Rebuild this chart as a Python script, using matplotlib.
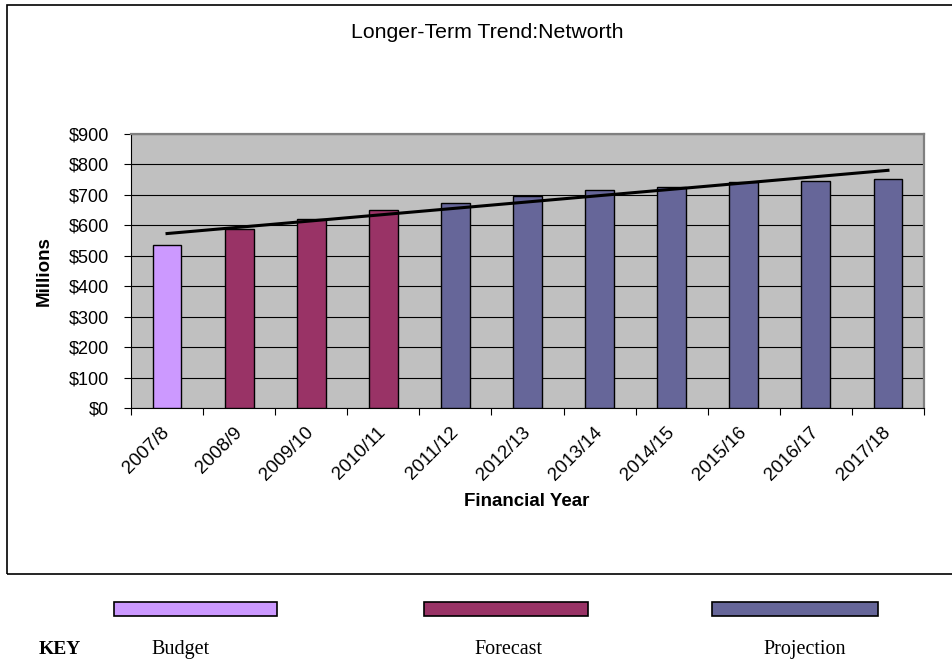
import numpy as np
import matplotlib
matplotlib.use("Agg")
import matplotlib.pyplot as plt
from matplotlib.patches import Rectangle
from matplotlib.ticker import FuncFormatter, MultipleLocator
from matplotlib.transforms import ScaledTranslation

# Net worth by financial year ($ millions)
years = ["2007/8", "2008/9", "2009/10", "2010/11", "2011/12", "2012/13",
         "2013/14", "2014/15", "2015/16", "2016/17", "2017/18"]
networth = [534, 587, 622, 649, 675, 695, 716, 726, 743, 746, 752]
stage = ["Budget", "Forecast", "Forecast", "Forecast", "Projection", "Projection",
         "Projection", "Projection", "Projection", "Projection", "Projection"]
stage_names = ["Budget", "Forecast", "Projection"]
stage_colors = {"Budget": "#CC99FF", "Forecast": "#993366", "Projection": "#666699"}

W, H = 952, 663
fig = plt.figure(figsize=(W / 100, H / 100), dpi=100)
sans = "Liberation Sans"
serif = "Liberation Serif"

def fx(px):
    return px / W

def fy(py):
    return 1 - py / H

# outer chart frame
fig.add_artist(Rectangle((fx(7), fy(574)), fx(960) - fx(7), fy(5) - fy(574),
                         transform=fig.transFigure, fill=False,
                         edgecolor="black", linewidth=1.2))

ax = fig.add_axes([fx(131), fy(408), fx(924) - fx(131), fy(134) - fy(408)])
ax.set_facecolor("#C0C0C0")

x = np.arange(1, len(years) + 1)
colors = [stage_colors[s] for s in stage]
ax.bar(x, networth, width=0.4, color=colors, edgecolor="black",
       linewidth=1.0, zorder=3)

# linear trendline
coef = np.polyfit(x, networth, 1)
ax.plot(x, np.polyval(coef, x), color="black", linewidth=2.2, zorder=4)

ax.set_xlim(0.5, len(years) + 0.5)
ax.set_ylim(0, 900)
ax.yaxis.set_major_locator(MultipleLocator(100))
ax.yaxis.set_major_formatter(FuncFormatter(lambda v, p: f"${v:,.0f}"))
ax.grid(axis="y", color="black", linewidth=0.8, zorder=1)
ax.set_axisbelow(True)

ax.set_xticks(x)
ax.set_xticklabels(years, rotation=45, ha="right", va="center",
                   rotation_mode="anchor", fontsize=13.5, fontname=sans)
shift = ScaledTranslation(-19 / 100, 0, fig.dpi_scale_trans)
for lab in ax.get_xticklabels():
    lab.set_transform(lab.get_transform() + shift)
ax.set_xticks(np.arange(0.5, len(years) + 1), minor=True)
ax.tick_params(axis="x", which="major", length=0, pad=16)
ax.tick_params(axis="x", which="minor", length=5, width=0.8, direction="out")
ax.tick_params(axis="y", length=5, width=0.8, direction="out", pad=11,
               labelsize=13)
for lab in ax.get_yticklabels():
    lab.set_fontname(sans)

for side in ("top", "right"):
    ax.spines[side].set_color("#808080")
    ax.spines[side].set_linewidth(1.6)
for side in ("left", "bottom"):
    ax.spines[side].set_color("black")
    ax.spines[side].set_linewidth(0.8)

fig.text(fx(487), fy(32), "Longer-Term Trend:Networth", ha="center",
         va="center", fontsize=15.3, fontname=sans)
fig.text(fx(44), fy(271), "Millions", ha="center", va="center",
         rotation=90, fontsize=13.5, fontweight="bold", fontname=sans)
fig.text(fx(527), fy(501), "Financial Year", ha="center", va="center",
         fontsize=13.5, fontweight="bold", fontname=sans)

# key below the chart
key_boxes = [(114, 277), (424, 588), (712, 878)]
key_label_x = [181, 508, 805]
for name, (x0, x1), lx in zip(stage_names, key_boxes, key_label_x):
    fig.add_artist(Rectangle((fx(x0), fy(616)), fx(x1) - fx(x0), fy(602) - fy(616),
                             transform=fig.transFigure,
                             facecolor=stage_colors[name], edgecolor="black",
                             linewidth=1.2))
    fig.text(fx(lx), fy(654), name, ha="center", va="baseline",
             fontsize=14.5, fontname=serif)
fig.text(fx(60), fy(654), "KEY", ha="center", va="baseline",
         fontsize=14, fontweight="bold", fontname=serif)

fig.savefig("out.png", dpi=100)
